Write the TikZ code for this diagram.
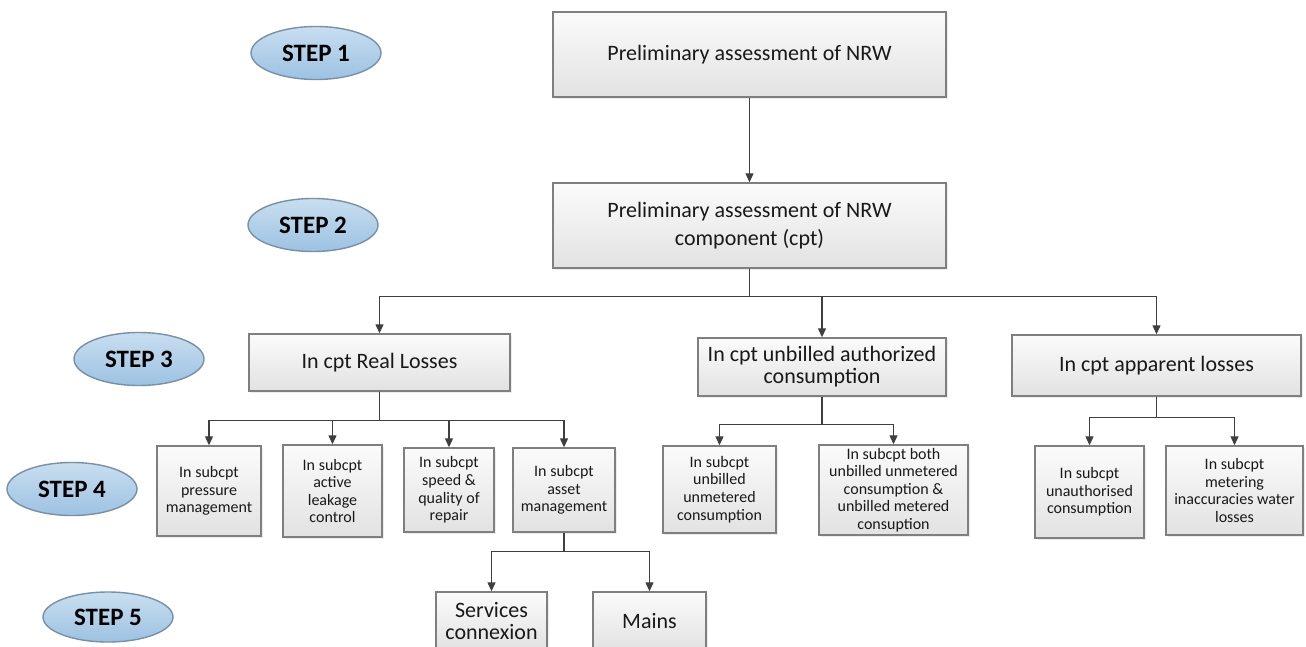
\documentclass[tikz,border=0pt]{standalone}
\usepackage{fontspec}
\setmainfont{Carlito}
\usetikzlibrary{arrows.meta,shapes.geometric,shadows}
\definecolor{boxline}{HTML}{7F7F7F}
\definecolor{boxtop}{HTML}{FBFBFB}
\definecolor{boxbot}{HTML}{E2E2E2}
\definecolor{steptop}{HTML}{C9DEF0}
\definecolor{stepbot}{HTML}{9CC2E2}
\definecolor{stepline}{HTML}{7890A6}
\definecolor{wire}{HTML}{3F3F3F}
\tikzset{
  box/.style={
    draw=boxline,
    line width=0.7pt,
    top color=boxtop,
    bottom color=boxbot,
    drop shadow={opacity=0.15, shadow xshift=0.8pt, shadow yshift=-0.8pt},
    align=center,
    inner sep=0pt,
    text=black!90,
    font=\fontsize{11}{14}\selectfont
  },
  small/.style={
    box,
    font=\fontsize{8}{8.8}\selectfont
  },
  stepmark/.style={
    ellipse,
    draw=stepline,
    line width=0.7pt,
    top color=steptop,
    bottom color=stepbot,
    minimum width=65pt,
    minimum height=26.5pt,
    inner sep=0pt,
    font=\fontsize{12.5}{14}\selectfont\bfseries
  },
  arrow/.style={-{Triangle[length=4.5pt,width=4pt]}, draw=wire, line width=0.6pt}
}

\begin{document}
\begin{tikzpicture}[x=0.5pt,y=-0.5pt]
\useasboundingbox (0,0) rectangle (1306,647);
\clip (0,0) rectangle (1306,647);

% Step markers
\node[stepmark] (s1) at (316,53) {STEP 1};
\node[stepmark] (s2) at (313,225) {STEP 2};
\node[stepmark] (s3) at (139,359) {STEP 3};
\node[stepmark] (s4) at (72,489) {STEP 4};
\node[stepmark, minimum height=25pt] (s5) at (108,617) {STEP 5};

% Steps 1 and 2
\node[box, minimum width=196.5pt, minimum height=42.5pt] (prelim) at (749.5,54.5) {Preliminary assessment of NRW};
\node[box, minimum width=196.5pt, minimum height=42.5pt] (comp) at (749.5,225.5) {Preliminary assessment of NRW\\component (cpt)};

% Step 3 components
\node[box, minimum width=130.5pt, minimum height=28.5pt] (real) at (379.5,362.5) {In cpt Real Losses};
\node[box, minimum width=124pt, minimum height=29pt, font=\fontsize{11}{11}\selectfont] (unbilled) at (822,367) {In cpt unbilled authorized\\consumption};
\node[box, minimum width=144.5pt, minimum height=30.5pt] (apparent) at (1156.5,365.5) {In cpt apparent losses};

% Step 4 subcomponents
\node[small, minimum width=52pt, minimum height=45pt] (pressure) at (209,491) {In subcpt\\pressure\\management};
\node[small, minimum width=49.5pt, minimum height=46pt] (active) at (332.5,491) {In subcpt\\active\\leakage\\control};
\node[small, minimum width=45pt, minimum height=42pt] (speed) at (449,490) {In subcpt\\speed \&\\quality of\\repair};
\node[small, minimum width=51pt, minimum height=42pt] (asset) at (564,490) {In subcpt\\asset\\management};
\node[small, minimum width=56.5pt, minimum height=43.5pt] (unmetered) at (719.5,489.5) {In subcpt\\unbilled\\unmetered\\consumption};
\node[small, minimum width=74.5pt, minimum height=45pt] (both) at (893.5,490) {In subcpt both\\unbilled unmetered\\consumption \&\\unbilled metered\\consuption};
\node[small, minimum width=54.5pt, minimum height=46pt] (unauth) at (1089.5,492) {In subcpt\\unauthorised\\consumption};
\node[small, minimum width=68.5pt, minimum height=44.5pt] (metering) at (1234.5,490.5) {In subcpt\\metering\\inaccuracies water\\losses};

% Step 5
\node[box, minimum width=55.5pt, minimum height=29pt, font=\fontsize{11}{11}\selectfont] (services) at (491.5,621) {Services\\connexion};
\node[box, minimum width=56.5pt, minimum height=29pt] (mains) at (649.5,621) {Mains};

% Arrows main flow
\draw[arrow] (prelim) -- (comp);
\draw[arrow] (comp.south) -- ++(0,28) -| (real.north);
\draw[arrow] (comp.south) -- ++(0,28) -| (unbilled.north);
\draw[arrow] (comp.south) -- ++(0,28) -| (apparent.north);

% Branch arrows
\draw[arrow] (real.south) -- ++(0,29) -| (pressure.north);
\draw[arrow] (real.south) -- ++(0,29) -| (active.north);
\draw[arrow] (real.south) -- ++(0,29) -| (speed.north);
\draw[arrow] (real.south) -- ++(0,29) -| (asset.north);
\draw[arrow] (unbilled.south) -- ++(0,28) -| (unmetered.north);
\draw[arrow] (unbilled.south) -- ++(0,28) -| (both.north);
\draw[arrow] (apparent.south) -- ++(0,21) -| (unauth.north);
\draw[arrow] (apparent.south) -- ++(0,21) -| (metering.north);
\draw[arrow] (asset.south) -- ++(0,19) -| (services.north);
\draw[arrow] (asset.south) -- ++(0,19) -| (mains.north);

\end{tikzpicture}
\end{document}
